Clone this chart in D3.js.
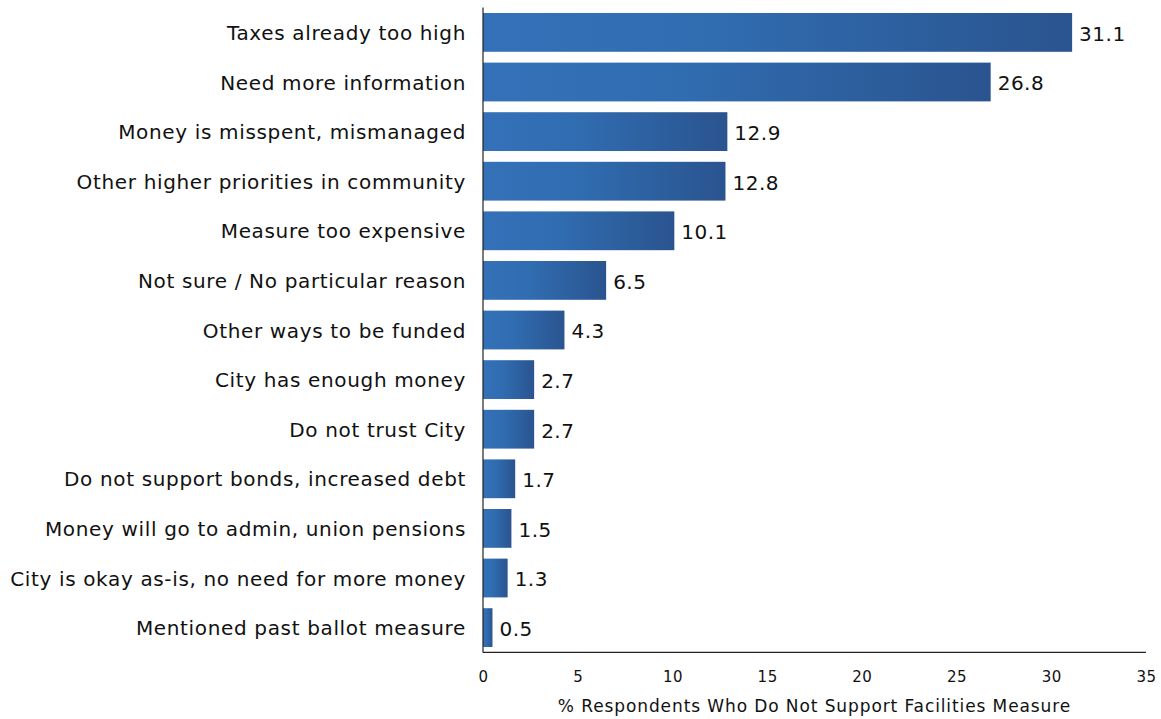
<!DOCTYPE html>
<html>
<head>
<meta charset="utf-8">
<script src="https://cdn.jsdelivr.net/npm/d3@7"></script>
<style>
  html, body { margin: 0; padding: 0; background: #fff; }
  svg { display: block; font-family: "DejaVu Sans", sans-serif; }
</style>
</head>
<body>
<svg id="chart" width="1161" height="719"></svg>
<script>
// Reasons respondents gave for not supporting the facilities measure
const reasons = [
  "Taxes already too high",
  "Need more information",
  "Money is misspent, mismanaged",
  "Other higher priorities in community",
  "Measure too expensive",
  "Not sure / No particular reason",
  "Other ways to be funded",
  "City has enough money",
  "Do not trust City",
  "Do not support bonds, increased debt",
  "Money will go to admin, union pensions",
  "City is okay as-is, no need for more money",
  "Mentioned past ballot measure"
];
const percents = [31.1, 26.8, 12.9, 12.8, 10.1, 6.5, 4.3, 2.7, 2.7, 1.7, 1.5, 1.3, 0.5];
const xTicks = [0, 5, 10, 15, 20, 25, 30, 35];
const xTitle = "% Respondents Who Do Not Support Facilities Measure";

const svg = d3.select("#chart");
const plotLeft = 483, plotRight = 1146, plotTop = 7.6, plotBottom = 652.4;

const x = d3.scaleLinear().domain([0, 35]).range([plotLeft, plotRight]);
const y = d3.scaleBand().domain(reasons).range([plotTop, plotBottom])
  .paddingInner(0.218).paddingOuter(0.109);

// Horizontal gradient applied across each bar's own width
const grad = svg.append("defs").append("linearGradient")
  .attr("id", "barFill").attr("x1", 0).attr("x2", 1).attr("y1", 0).attr("y2", 0);
grad.append("stop").attr("offset", 0).attr("stop-color", "#3471b8");
grad.append("stop").attr("offset", 0.4).attr("stop-color", "#306cb0");
grad.append("stop").attr("offset", 1).attr("stop-color", "#2a548f");

const rows = reasons.map((r, i) => ({ reason: r, value: percents[i] }));

svg.append("g").selectAll("rect").data(rows).join("rect")
  .attr("x", x(0))
  .attr("y", d => y(d.reason))
  .attr("width", d => x(d.value) - x(0))
  .attr("height", y.bandwidth())
  .attr("fill", "url(#barFill)");

// Value labels at bar ends
svg.append("g").selectAll("text").data(rows).join("text")
  .attr("x", d => x(d.value) + 7)
  .attr("y", d => y(d.reason) + y.bandwidth() / 2)
  .attr("dy", "0.42em")
  .attr("font-size", 20)
  .attr("letter-spacing", 0.5)
  .attr("fill", "#111")
  .text(d => d.value.toFixed(1));

// Category axis
const yAxis = svg.append("g")
  .attr("transform", `translate(${plotLeft},0)`)
  .call(d3.axisLeft(y).tickSize(0).tickPadding(17));
yAxis.select(".domain").attr("stroke", "#222").attr("stroke-width", 1.2)
  .attr("d", `M0,${plotTop}V${plotBottom}`);
yAxis.selectAll("text").attr("font-size", 20).attr("fill", "#111")
  .attr("letter-spacing", 0.65)
  .attr("dy", "0.38em")
  .attr("font-family", "DejaVu Sans, sans-serif");

// Value axis
const xAxis = svg.append("g")
  .attr("transform", `translate(0,${plotBottom})`)
  .call(d3.axisBottom(x).tickValues(xTicks).tickSize(0).tickPadding(19)
    .tickFormat(d3.format("d")));
xAxis.select(".domain").attr("stroke", "#222").attr("stroke-width", 1.2)
  .attr("d", `M${plotLeft},0H${plotRight}`);
xAxis.selectAll("text").attr("font-size", 15).attr("fill", "#111")
  .attr("letter-spacing", 0.5)
  .attr("font-family", "DejaVu Sans, sans-serif");

svg.append("text")
  .attr("x", (plotLeft + plotRight) / 2)
  .attr("y", 712)
  .attr("text-anchor", "middle")
  .attr("font-size", 17)
  .attr("letter-spacing", 0.9)
  .attr("fill", "#111")
  .text(xTitle);
</script>
</body>
</html>
